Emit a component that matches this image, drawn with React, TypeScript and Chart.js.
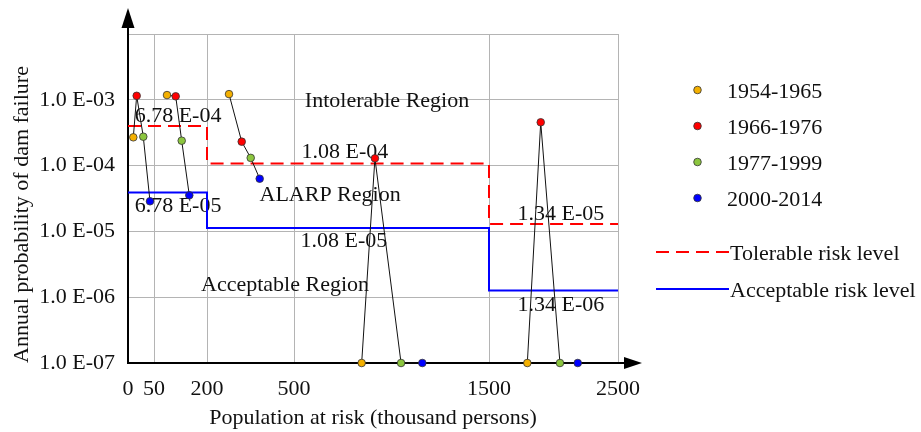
import React, { useEffect, useRef } from 'react';
import { Chart, registerables, LinearScale } from 'chart.js';

// ---- data -------------------------------------------------------------
const eraLabels = ['1954-1965', '1966-1976', '1977-1999', '2000-2014'];

// population at risk (thousand persons) and annual failure probability, one entry per dam group
const population1954 = [10.2, 86.8, 275.9, 847, 1797];
const probability1954 = [2.69e-4, 1.18e-3, 1.22e-3, 1e-7, 1e-7];
const population1966 = [16.7, 111.4, 319.7, 915, 1901];
const probability1966 = [1.15e-3, 1.13e-3, 2.31e-4, 1.29e-4, 4.55e-4];
const population1977 = [29.4, 128.4, 350.7, 1049, 2050];
const probability1977 = [2.75e-4, 2.39e-4, 1.31e-4, 1e-7, 1e-7];
const population2000 = [42.3, 149.9, 381.7, 1158, 2188];
const probability2000 = [2.87e-5, 3.54e-5, 6.32e-5, 1e-7, 1e-7];

const levelPopulation = [0, 200, 1500, 2500];
const tolerableLevel = [4.0e-4, 1.08e-4, 1.3e-5, 1.3e-5];
const acceptableLevel = [3.9e-5, 1.13e-5, 1.26e-6, 1.26e-6];

const xTickValues = [0, 50, 200, 500, 1500, 2500];
const yTickValues = [1e-7, 1e-6, 1e-5, 1e-4, 1e-3, 1e-2];

const annotationTexts = ['6.78 E-04', '6.78 E-05', '1.08 E-04', '1.08 E-05', '1.34 E-05', '1.34 E-06',
  'Intolerable Region', 'ALARP Region', 'Acceptable Region'];
const annotationPopulation = [118, 118, 761, 756, 2058, 2058, 977, 685, 469];
const annotationProbability = [4.65e-4, 1.99e-5, 1.31e-4, 5.85e-6, 1.49e-5, 6.24e-7, 7.85e-4, 2.93e-5, 1.26e-6];

// ---- style --------------------------------------------------------------
const FONT_FAMILY = '"Liberation Serif", "Times New Roman", serif';
const FONT_SIZE = 22;
const eraColors = ['#F4B000', '#FF0000', '#8CC63F', '#0000FF'];
// relative spacing of the (non-uniform) hand-drawn population axis
const xTickFractions = [0, 26 / 490, 79 / 490, 166 / 490, 361 / 490, 1];

class PiecewiseScale extends LinearScale {
  static id = 'piecewise';
  static defaults = LinearScale.defaults;
  decimalFor(value: number): number {
    const v = xTickValues;
    const f = xTickFractions;
    for (let i = 1; i < v.length; i++) {
      if (value <= v[i] || i === v.length - 1) {
        return f[i - 1] + ((value - v[i - 1]) / (v[i] - v[i - 1])) * (f[i] - f[i - 1]);
      }
    }
    return 0;
  }
  getPixelForValue(value: number) {
    if (value === null || value === undefined) return NaN;
    return this.getPixelForDecimal(this.decimalFor(value));
  }
  getValueForPixel(pixel: number) {
    const d = this.getDecimalForPixel(pixel);
    const v = xTickValues;
    const f = xTickFractions;
    for (let i = 1; i < f.length; i++) {
      if (d <= f[i] || i === f.length - 1) {
        return v[i - 1] + ((d - f[i - 1]) / (f[i] - f[i - 1])) * (v[i] - v[i - 1]);
      }
    }
    return 0;
  }
}

Chart.register(...registerables, PiecewiseScale as any);

const eraPopulations = [population1954, population1966, population1977, population2000];
const eraProbabilities = [probability1954, probability1966, probability1977, probability2000];

const overlayPlugin = {
  id: 'overlay',
  beforeDatasetsDraw(chart: any) {
    const { ctx, chartArea, scales } = chart;
    const x = scales.x;
    const y = scales.y;
    ctx.save();
    // region / level annotations
    ctx.font = `${FONT_SIZE}px ${FONT_FAMILY}`;
    ctx.fillStyle = '#111';
    ctx.textAlign = 'center';
    ctx.textBaseline = 'alphabetic';
    annotationTexts.forEach((t, i) => {
      ctx.fillText(t, x.getPixelForValue(annotationPopulation[i]), y.getPixelForValue(annotationProbability[i]));
    });
    // axes with arrows
    const ox = chartArea.left;
    const oy = chartArea.bottom;
    ctx.strokeStyle = '#000';
    ctx.fillStyle = '#000';
    ctx.lineWidth = 2;
    ctx.beginPath();
    ctx.moveTo(ox, oy + 1);
    ctx.lineTo(ox, 26);
    ctx.moveTo(ox - 1, oy);
    ctx.lineTo(chartArea.right + 8, oy);
    ctx.stroke();
    ctx.beginPath();
    ctx.moveTo(ox, 8);
    ctx.lineTo(ox - 6.5, 28);
    ctx.lineTo(ox + 6.5, 28);
    ctx.closePath();
    ctx.fill();
    ctx.beginPath();
    ctx.moveTo(chartArea.right + 24, oy);
    ctx.lineTo(chartArea.right + 6, oy - 6);
    ctx.lineTo(chartArea.right + 6, oy + 6);
    ctx.closePath();
    ctx.fill();
    ctx.restore();
  },
};

const legendPlugin = {
  id: 'sideLegend',
  afterDraw(chart: any) {
    const { ctx } = chart;
    ctx.save();
    ctx.font = `${FONT_SIZE}px ${FONT_FAMILY}`;
    ctx.textAlign = 'left';
    ctx.textBaseline = 'alphabetic';
    const rowY = [90, 126, 162, 198];
    eraLabels.forEach((label, i) => {
      ctx.beginPath();
      ctx.arc(697.5, rowY[i], 3.8, 0, Math.PI * 2);
      ctx.fillStyle = eraColors[i];
      ctx.fill();
      ctx.lineWidth = 0.8;
      ctx.strokeStyle = '#333';
      ctx.stroke();
      ctx.fillStyle = '#111';
      ctx.fillText(label, 727, rowY[i] + 7.5);
    });
    const lines = [
      { label: 'Tolerable risk level', color: '#FF0000', dash: [13, 7], y: 252 },
      { label: 'Acceptable risk level', color: '#0000FF', dash: [], y: 289 },
    ];
    lines.forEach((l) => {
      ctx.beginPath();
      ctx.setLineDash(l.dash);
      ctx.strokeStyle = l.color;
      ctx.lineWidth = 2;
      ctx.moveTo(656, l.y);
      ctx.lineTo(729, l.y);
      ctx.stroke();
      ctx.setLineDash([]);
      ctx.fillStyle = '#111';
      ctx.fillText(l.label, 730, l.y + 7.5);
    });
    ctx.restore();
  },
};

function formatProbability(v: number): string {
  const e = Math.round(Math.log10(v));
  if (e >= -2) return '';
  const abs = Math.abs(e);
  return `1.0 E-${abs < 10 ? '0' : ''}${abs}`;
}

export default function App() {
  const canvasRef = useRef<HTMLCanvasElement | null>(null);

  useEffect(() => {
    if (!canvasRef.current) return;
    const font = { family: FONT_FAMILY, size: FONT_SIZE };

    const pointSets = eraLabels.map((label, e) => ({
      label,
      data: eraPopulations[e].map((p, i) => ({ x: p, y: eraProbabilities[e][i] })),
      showLine: false,
      pointRadius: 3.8,
      pointBorderWidth: 0.8,
      pointBackgroundColor: eraColors[e],
      pointBorderColor: '#333',
      clip: false,
    }));

    const connectorSets = population1954.map((_, g) => ({
      label: `group ${g + 1}`,
      data: eraLabels.map((__, e) => ({ x: eraPopulations[e][g], y: eraProbabilities[e][g] })),
      borderColor: '#111',
      borderWidth: 1,
      pointRadius: 0,
      tension: 0,
      clip: false,
    }));

    const levelSets = [
      {
        label: 'Tolerable risk level',
        data: levelPopulation.map((p, i) => ({ x: p, y: tolerableLevel[i] })),
        borderColor: '#FF0000',
        borderWidth: 2,
        borderDash: [13, 7],
        pointRadius: 0,
        stepped: true,
      },
      {
        label: 'Acceptable risk level',
        data: levelPopulation.map((p, i) => ({ x: p, y: acceptableLevel[i] })),
        borderColor: '#0000FF',
        borderWidth: 2,
        pointRadius: 0,
        stepped: true,
      },
    ];

    const chart = new Chart(canvasRef.current, {
      type: 'line',
      data: { datasets: [...pointSets, ...connectorSets, ...levelSets] as any },
      options: {
        responsive: false,
        animation: false,
        layout: { padding: { left: 0, right: 303, top: 34, bottom: 0 } },
        plugins: { legend: { display: false }, tooltip: { enabled: false } },
        scales: {
          x: {
            type: 'piecewise' as any,
            min: 0,
            max: 2500,
            afterBuildTicks: (s: any) => {
              s.ticks = xTickValues.map((value) => ({ value }));
            },
            afterFit: (s: any) => {
              s.height = 69;
            },
            grid: { color: '#b4b4b4', lineWidth: 1, drawTicks: false },
            border: { display: false },
            ticks: {
              font,
              color: '#111',
              padding: 13,
              autoSkip: false,
              maxRotation: 0,
              callback: (v: any) => String(v),
            },
            title: {
              display: true,
              text: 'Population at risk (thousand persons)',
              font,
              color: '#111',
              padding: { top: 0, bottom: 1 },
            },
          } as any,
          y: {
            type: 'logarithmic',
            min: 1e-7,
            max: 1e-2,
            afterBuildTicks: (s: any) => {
              s.ticks = yTickValues.map((value) => ({ value }));
            },
            afterFit: (s: any) => {
              s.width = 128;
            },
            grid: { color: '#b4b4b4', lineWidth: 1, drawTicks: false },
            border: { display: false },
            ticks: {
              font,
              color: '#111',
              padding: 13,
              autoSkip: false,
              callback: (v: any) => formatProbability(Number(v)),
            },
            title: {
              display: true,
              text: 'Annual probability of dam failure',
              font,
              color: '#111',
              align: 'start',
              padding: { top: 9, bottom: 0 },
            },
          } as any,
        },
      },
      plugins: [overlayPlugin, legendPlugin],
    });

    return () => chart.destroy();
  }, []);

  return (
    <div style={{ position: 'absolute', left: 0, top: 0, width: 921, height: 432, background: '#fff' }}>
      <canvas ref={canvasRef} width={921} height={432} style={{ display: 'block' }} />
    </div>
  );
}
